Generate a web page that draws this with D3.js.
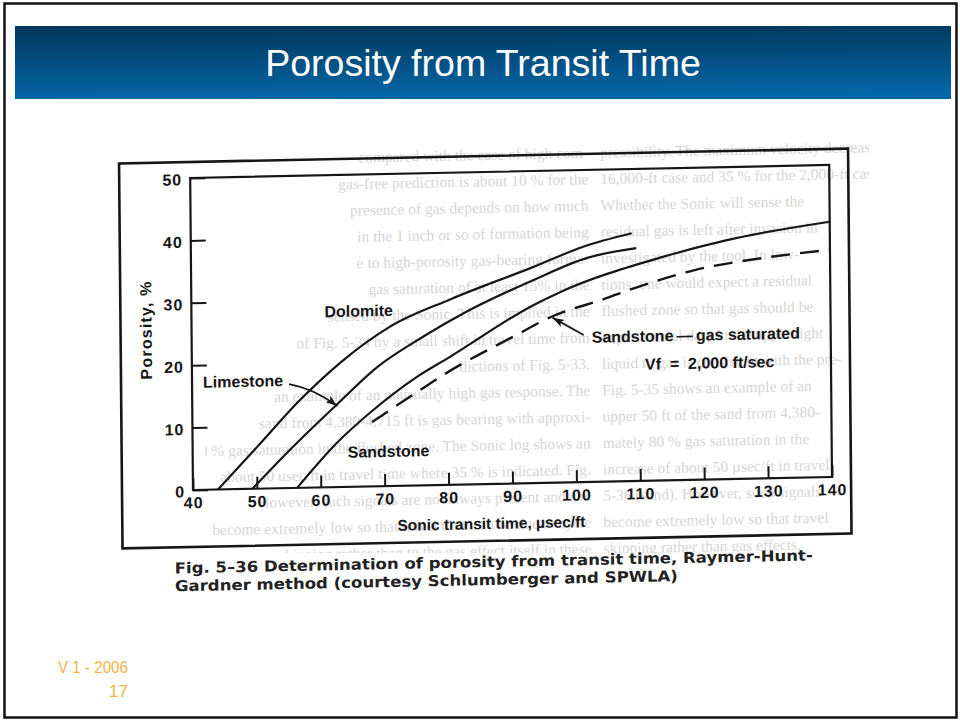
<!DOCTYPE html>
<html>
<head>
<meta charset="utf-8">
<script src="https://cdn.jsdelivr.net/npm/d3@7"></script>
<style>
  html, body { margin: 0; padding: 0; background: #fff; }
  svg { display: block; }
</style>
</head>
<body>
<svg id="slide" width="960" height="721"></svg>
<script>
// ---------------------------------------------------------------- data --- //
// curves: [sonic transit time (usec/ft), porosity %]
var dolomite     = [[43.9,0],[50.1,6.7],[56.9,14.1],[63.2,19.9],[71.0,25.5],[80.5,29.7],[93.5,34.6],[101.4,37.7],[109.0,39.7]];
var limestone    = [[49.3,0],[55.2,6.1],[62.6,13.2],[69.0,19.1],[76.2,23.8],[83.1,27.7],[93.5,32.5],[102.0,35.9],[109.7,37.3]];
var sandstone    = [[56.3,0],[62.6,7.1],[67.8,11.8],[75.2,17.4],[80.4,20.5],[93.5,28.5],[97.7,30.5],[113.4,35.7],[123.9,38.3],[140,40.9]];
var sandstoneGas = [[68.1,10.3],[76.5,15.8],[79.8,17.9],[90.3,23.5],[96.6,26.7],[104.1,29.1],[110.9,31.4],[118.8,33.6],[129.4,35.3],[140,36.4]];

var xTicks = [40, 50, 60, 70, 80, 90, 100, 110, 120, 130, 140];
var yTicks = [0, 10, 20, 30, 40, 50];

var slideTitle = "Porosity from Transit Time";
var xTitle = "Sonic transit time, \u00b5sec/ft";
var yTitle = "Porosity, %";
var caption = ["Fig. 5\u201336  Determination of porosity from transit time, Raymer-Hunt-",
               "Gardner method (courtesy Schlumberger and SPWLA)"];
var footer = ["V 1 - 2006", "17"];

// faint text of the book page showing through the scan: [tail, head]
var pageRows = [
  ["compared with the case of high com-", "pressibility. The maximum velocity decrease"],
  ["gas-free prediction is about 10 % for the", "16,000-ft case and 35 % for the 2,000-ft case."],
  ["presence of gas depends on how much", "Whether the Sonic will sense the"],
  ["in the 1 inch or so of formation being", "residual gas is left after invasion in"],
  ["e to high-porosity gas-bearing forma-", "investigated by the tool. In low-"],
  ["gas saturation of at least 15% in the", "tions, one would expect a residual"],
  ["sensed by the Sonic. This is implied in the", "flushed zone so that gas should be"],
  ["of Fig. 5-34 by a small shift in travel time from", "experimental data in the upper right"],
  ["dictions of Fig. 5-33.", "liquid to gas is consistent with the pre-"],
  ["an example of an unusually high gas response. The", "Fig. 5-35 shows an example of an"],
  ["sand from 4,380-4,715 ft is gas bearing with approxi-", "upper 50 ft of the sand from 4,380-"],
  ["80 % gas saturation in the flushed zone. The Sonic log shows an", "mately 80 % gas saturation in the"],
  ["about 50 usec/ft in travel time where 35 % is indicated. Fig.", "increase of about 50 \u00b5sec/ft in travel"],
  ["However, such signals are not always present and can", "5-36 (sand). However, such signals"],
  ["become extremely low so that travel time can be due to cycle", "become extremely low so that travel"],
  ["skipping rather than to the gas effect itself in these", "skipping rather than gas effects."]
];

// ---------------------------------------------------------------- slide --- //
var svg = d3.select("#slide");
var defs = svg.append("defs");

var grad = defs.append("linearGradient")
    .attr("id", "bar")
    .attr("x1", 0).attr("y1", 0).attr("x2", 0.1).attr("y2", 1);
grad.append("stop").attr("offset", "0%").attr("stop-color", "#02365a");
grad.append("stop").attr("offset", "100%").attr("stop-color", "#0566a7");

defs.append("clipPath").attr("id", "scan")
  .append("rect").attr("x", 205).attr("y", 133).attr("width", 664).attr("height", 420);

defs.append("marker")
    .attr("id", "head")
    .attr("markerUnits", "userSpaceOnUse")
    .attr("markerWidth", 14).attr("markerHeight", 10)
    .attr("refX", 12).attr("refY", 4)
    .attr("orient", "auto")
  .append("path")
    .attr("d", "M0,0 L12,4 L0,8 L3,4 z")
    .attr("fill", "#161616");

svg.append("rect")
    .attr("x", 4.5).attr("y", 3.5).attr("width", 952).attr("height", 714)
    .attr("fill", "#fff").attr("stroke", "#111").attr("stroke-width", 2.5);

svg.append("rect")
    .attr("x", 15).attr("y", 26).attr("width", 936).attr("height", 73)
    .attr("fill", "url(#bar)");

svg.append("text")
    .attr("x", 483).attr("y", 76)
    .attr("text-anchor", "middle")
    .attr("font-family", "Liberation Sans, Arial, sans-serif")
    .attr("font-size", 37.5)
    .attr("fill", "#fff")
    .text(slideTitle);

svg.append("text")
    .attr("x", 128).attr("y", 673)
    .attr("text-anchor", "end")
    .attr("font-family", "Liberation Sans Narrow, Liberation Sans, Arial, sans-serif")
    .attr("font-size", 17)
    .attr("textLength", 70).attr("lengthAdjust", "spacingAndGlyphs")
    .attr("fill", "#f5b244")
    .text(footer[0]);

svg.append("text")
    .attr("x", 128).attr("y", 697)
    .attr("text-anchor", "end")
    .attr("font-family", "Liberation Sans Narrow, Liberation Sans, Arial, sans-serif")
    .attr("font-size", 17)
    .attr("fill", "#f5b244")
    .text(footer[1]);

// --------------------------------------------------------------- figure --- //
// the scan is slightly rotated/skewed: local origin is the (40, 0) corner
var scanTransform = "matrix(1,-0.0204,0.009,1,193,490)";

// show-through text, under everything else
var ghost = svg.append("g").attr("clip-path", "url(#scan)")
  .append("g")
    .attr("transform", scanTransform)
    .attr("font-family", "Liberation Serif, Times New Roman, serif")
    .attr("font-size", 15.5)
    .attr("fill", "#d6d6d6");

pageRows.forEach(function(r, i) {
    var v = -324 + i * 26.4;
    ghost.append("text").attr("x", 398).attr("y", v).attr("text-anchor", "end").text(r[0]);
    ghost.append("text").attr("x", 410).attr("y", v).text(r[1]);
});

var fig = svg.append("g").attr("transform", scanTransform);

var W = 639, H = 312;
var x = d3.scaleLinear().domain([40, 140]).range([0, W]);
var y = d3.scaleLinear().domain([0, 50]).range([0, -H]);

var ink = "#161616";
var sans = "Liberation Sans, Arial, Helvetica, sans-serif";

// outer frame and plot frame
fig.append("rect")
    .attr("x", -71).attr("y", -328).attr("width", 729).attr("height", 385)
    .attr("fill", "none").attr("stroke", ink).attr("stroke-width", 2.6);

fig.append("rect")
    .attr("x", 0).attr("y", -H).attr("width", W).attr("height", H)
    .attr("fill", "none").attr("stroke", ink).attr("stroke-width", 2.2);

// axes with inward ticks
var xAxis = fig.append("g")
    .call(d3.axisBottom(x).tickValues(xTicks).tickSizeInner(-12).tickSizeOuter(0).tickPadding(7));
var yAxis = fig.append("g")
    .call(d3.axisLeft(y).tickValues(yTicks).tickSizeInner(-15).tickSizeOuter(0).tickPadding(8));

[xAxis, yAxis].forEach(function(a) {
    a.select(".domain").remove();
    a.selectAll("line").attr("stroke", ink).attr("stroke-width", 2);
    a.selectAll("text")
        .attr("font-family", sans)
        .attr("font-weight", "bold")
        .attr("font-size", 16)
        .attr("letter-spacing", 1)
        .attr("fill", ink);
});
yAxis.selectAll("text").attr("dy", "0.42em");

// curves
var line = d3.line()
    .x(function(d) { return x(d[0]); })
    .y(function(d) { return y(d[1]); })
    .curve(d3.curveMonotoneX);

[dolomite, limestone, sandstone].forEach(function(s) {
    fig.append("path")
        .attr("d", line(s))
        .attr("fill", "none")
        .attr("stroke", ink)
        .attr("stroke-width", 2.2);
});

fig.append("path")
    .attr("d", line(sandstoneGas))
    .attr("fill", "none")
    .attr("stroke", ink)
    .attr("stroke-width", 2.4)
    .attr("stroke-dasharray", "19,10");

// labels
function label(txt, u, v, size) {
    return fig.append("text")
        .attr("x", u).attr("y", v)
        .attr("font-family", sans)
        .attr("font-weight", "bold")
        .attr("font-size", size)
        .attr("fill", ink)
        .attr("xml:space", "preserve")
        .style("white-space", "pre")
        .text(txt);
}

label("Dolomite", 133, -170, 16);
label("Limestone", 11, -102, 16);
label("Sandstone", 155, -29, 16);
label("Sandstone\u2009\u2014\u2009gas saturated", 400, -139, 16);
label("Vf  =  2,000 ft/sec", 453, -111, 16);

fig.append("path")
    .attr("d", "M97,-104 Q122,-99 145,-81")
    .attr("fill", "none").attr("stroke", ink).attr("stroke-width", 1.8)
    .attr("marker-end", "url(#head)");

fig.append("path")
    .attr("d", "M392,-147 L361,-165")
    .attr("fill", "none").attr("stroke", ink).attr("stroke-width", 1.8)
    .attr("marker-end", "url(#head)");

label(xTitle, 204, 45, 15.5);

fig.append("text")
    .attr("transform", "translate(-40,-161) rotate(-90)")
    .attr("text-anchor", "middle")
    .attr("font-family", sans)
    .attr("font-weight", "bold")
    .attr("font-size", 16)
    .attr("letter-spacing", 1.2)
    .attr("fill", ink)
    .text(yTitle);

// figure caption
fig.append("text")
    .attr("x", -19).attr("y", 83)
    .attr("font-family", "DejaVu Sans, sans-serif")
    .attr("font-weight", "bold")
    .attr("font-size", 15)
    .attr("textLength", 638).attr("lengthAdjust", "spacingAndGlyphs")
    .attr("fill", "#222")
    .text(caption[0]);

fig.append("text")
    .attr("x", -19).attr("y", 101)
    .attr("font-family", "DejaVu Sans, sans-serif")
    .attr("font-weight", "bold")
    .attr("font-size", 15)
    .attr("textLength", 503).attr("lengthAdjust", "spacingAndGlyphs")
    .attr("fill", "#222")
    .text(caption[1]);
</script>
</body>
</html>
